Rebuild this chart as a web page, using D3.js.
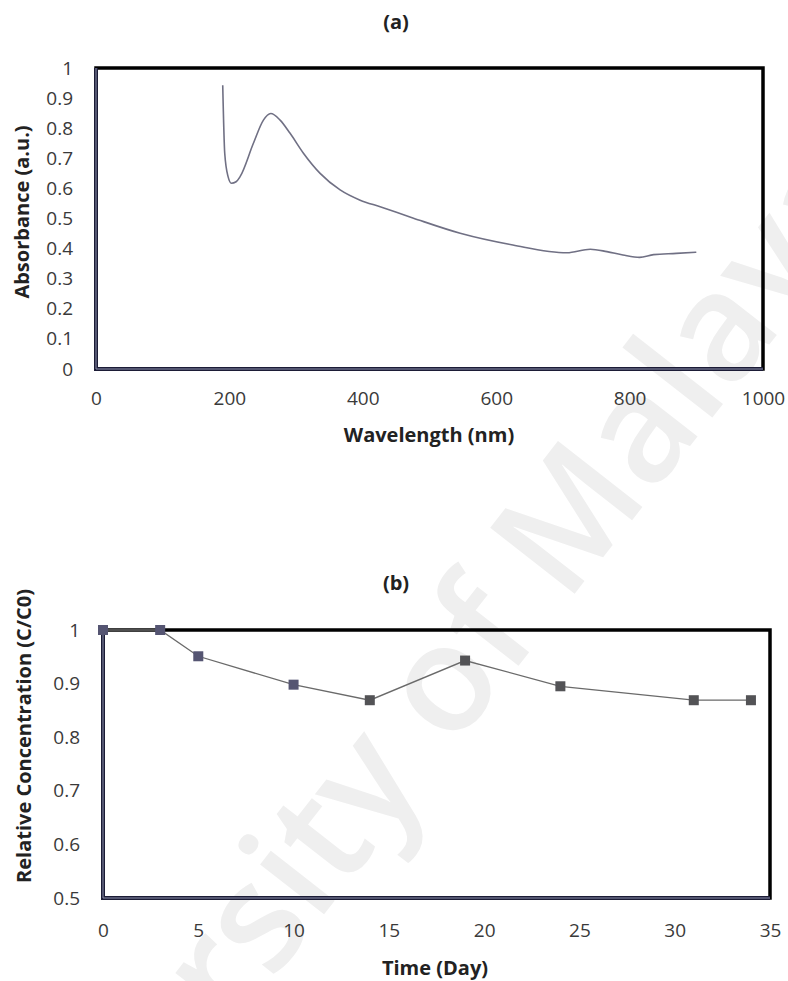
<!DOCTYPE html>
<html>
<head>
<meta charset="utf-8">
<script src="https://cdn.jsdelivr.net/npm/d3@7"></script>
<style>
  body { margin: 0; background: #fff; }
  svg { display: block; }
  .tick text { font-family: "Open Sans", sans-serif; font-size: 19px; fill: #3a3a3a; }
  .lbl { font-family: "Open Sans", sans-serif; font-weight: bold; font-size: 20px; fill: #222; }
</style>
</head>
<body>
<svg id="svgMain" width="788" height="981"></svg>
<script>
// (a) absorbance spectrum
const wavelength = [190, 193, 198, 203, 210, 216, 236, 251, 262, 276, 291, 311, 336, 366, 396, 426, 476, 546, 625, 706, 741, 766, 790, 815, 836, 870, 900];
const absorbance = [0.943, 0.717, 0.639, 0.617, 0.622, 0.639, 0.75, 0.827, 0.849, 0.827, 0.783, 0.717, 0.65, 0.595, 0.561, 0.539, 0.501, 0.451, 0.412, 0.386, 0.398, 0.39, 0.379, 0.371, 0.38, 0.384, 0.388];
const absTicks = [0, 0.1, 0.2, 0.3, 0.4, 0.5, 0.6, 0.7, 0.8, 0.9, 1];
const waveTicks = [0, 200, 400, 600, 800, 1000];

// (b) relative concentration over time
const days = [0, 3, 5, 10, 14, 19, 24, 31, 34];
const relConc = [1.0, 1.0, 0.951, 0.898, 0.869, 0.943, 0.895, 0.869, 0.869];
const concTicks = [0.5, 0.6, 0.7, 0.8, 0.9, 1];
const dayTicks = [0, 5, 10, 15, 20, 25, 30, 35];

let svgMain = d3.select("#svgMain");

// faint watermark behind everything
svgMain.append("text")
    .attr("transform", "translate(400,752) rotate(-52)")
    .attr("text-anchor", "middle")
    .attr("dominant-baseline", "middle")
    .style("font-family", "Open Sans, sans-serif")
    .style("font-weight", 600)
    .style("font-size", "150px")
    .style("fill", "#efefef")
    .text("University of Malaya");

// blur to mimic the soft scan
const defs = svgMain.append("defs");
defs.append("filter").attr("id", "soft")
    .append("feGaussianBlur").attr("stdDeviation", 0.7);

function drawPanel(cfg) {
    const g = svgMain.append("g")
        .attr("transform", "translate(" + cfg.left + "," + cfg.top + ")");

    const x = d3.scaleLinear().domain(cfg.xDomain).range([0, cfg.width]);
    const y = d3.scaleLinear().domain(cfg.yDomain).range([cfg.height, 0]);

    //Axis
    let yAxis = d3.axisLeft(y).tickValues(cfg.yTicks).tickSize(0).tickPadding(23).tickFormat(d3.format("~g"));
    g.append("g").call(yAxis).call(a => a.select(".domain").remove());

    let xAxis = d3.axisBottom(x).tickValues(cfg.xTicks).tickSize(0).tickPadding(cfg.xPad).tickFormat(d3.format("~g"));
    g.append("g")
        .attr("transform", "translate(0," + cfg.height + ")")
        .call(xAxis).call(a => a.select(".domain").remove());

    // frame: black top/right, dark double line on left/bottom
    g.append("rect")
        .attr("width", cfg.width).attr("height", cfg.height)
        .style("fill", "none").style("stroke", "#000").style("stroke-width", 3.5);
    const axisPath = "M0,0V" + cfg.height + "H" + cfg.width;
    g.append("path").attr("d", axisPath)
        .style("fill", "none").style("stroke", "#1c1c36").style("stroke-width", 4);
    g.append("path").attr("d", axisPath)
        .style("fill", "none").style("stroke", "#8c90ac").style("stroke-width", 1);

    // title
    svgMain.append("text").attr("class", "lbl")
        .attr("x", cfg.titleX).attr("y", cfg.titleY)
        .attr("text-anchor", "middle")
        .text(cfg.title);

    // x label
    svgMain.append("text").attr("class", "lbl")
        .attr("x", cfg.xLabelX).attr("y", cfg.xLabelY)
        .attr("text-anchor", "middle")
        .text(cfg.xLabel);

    // y label
    svgMain.append("text").attr("class", "lbl")
        .attr("transform", "translate(" + cfg.yLabelX + "," + cfg.yLabelY + ") rotate(-90)")
        .attr("text-anchor", "middle")
        .attr("dominant-baseline", "middle")
        .text(cfg.yLabel);

    return { g: g, x: x, y: y };
}

// ---- panel (a)
const pa = drawPanel({
    left: 96, top: 68, width: 667, height: 301,
    xDomain: [0, 1000], yDomain: [0, 1],
    xTicks: waveTicks, yTicks: absTicks, xPad: 23,
    title: "(a)", titleX: 396, titleY: 29,
    xLabel: "Wavelength (nm)", xLabelX: 429, xLabelY: 442,
    yLabel: "Absorbance (a.u.)", yLabelX: 24, yLabelY: 212
});

const specData = wavelength.map((w, i) => ({ w: w, a: absorbance[i] }));
const specLine = d3.line()
    .x(d => pa.x(d.w))
    .y(d => pa.y(d.a))
    .curve(d3.curveMonotoneX);

pa.g.append("path")
    .attr("d", specLine(specData))
    .attr("filter", "url(#soft)")
    .style("fill", "none")
    .style("stroke", "#707084")
    .style("stroke-width", 1.6);

// ---- panel (b)
const pb = drawPanel({
    left: 103, top: 630, width: 667, height: 268,
    xDomain: [0, 35], yDomain: [0.5, 1],
    xTicks: dayTicks, yTicks: concTicks, xPad: 26,
    title: "(b)", titleX: 396, titleY: 590,
    xLabel: "Time (Day)", xLabelX: 435, xLabelY: 975,
    yLabel: "Relative Concentration (C/C0)", yLabelX: 26, yLabelY: 736
});

const concData = days.map((d, i) => ({ t: d, c: relConc[i] }));
const concLine = d3.line()
    .x(d => pb.x(d.t))
    .y(d => pb.y(d.c));

pb.g.append("path")
    .attr("d", concLine(concData))
    .style("fill", "none")
    .style("stroke", "#6a6a6a")
    .style("stroke-width", 1.3);

pb.g.selectAll("rect.pt")
    .data(concData)
    .enter().append("rect")
    .attr("class", "pt")
    .attr("x", d => pb.x(d.t) - 5)
    .attr("y", d => pb.y(d.c) - 5)
    .attr("width", 10).attr("height", 10)
    .attr("filter", "url(#soft)")
    .style("fill", (d, i) => i < 4 ? "#545472" : "#525256");
</script>
</body>
</html>
